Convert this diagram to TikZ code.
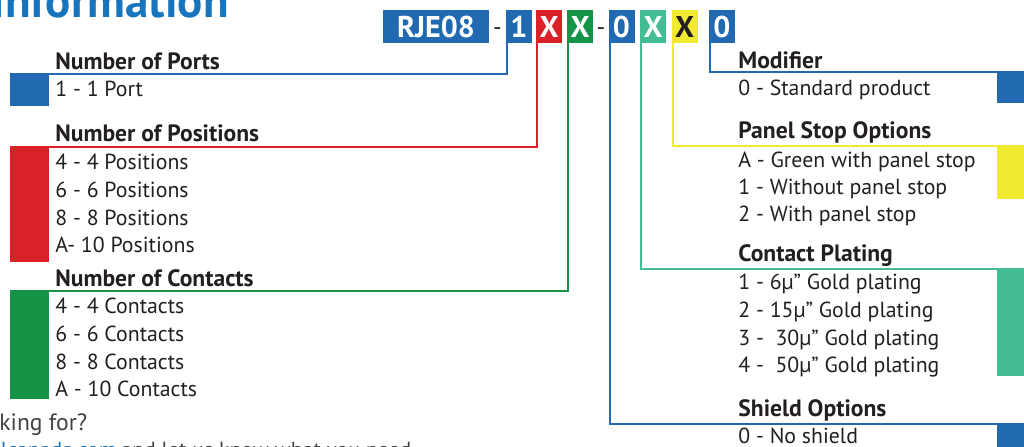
\documentclass[tikz,border=0pt]{standalone}
\usepackage{fontspec}
\setmainfont{PT Sans}
\definecolor{cblue}{RGB}{33,105,176}
\definecolor{cred}{RGB}{218,33,40}
\definecolor{cgreen}{RGB}{21,148,71}
\definecolor{cteal}{RGB}{69,189,148}
\definecolor{cyellow}{RGB}{242,234,48}
\definecolor{ctext}{RGB}{35,31,32}
\definecolor{ctitle}{RGB}{22,117,188}
\tikzset{
  codebox/.style={fill=#1, text=white, font=\fontsize{15}{15}\selectfont\bfseries,
    minimum height=16.5pt, inner sep=0pt},
  digit/.style={codebox=#1, minimum width=13pt},
  sepdash/.style={text=ctext, font=\fontsize{12}{12}\selectfont, inner sep=0pt, anchor=base},
  bar/.style={fill=#1, minimum width=19.5pt, inner sep=0pt},
  rbar/.style={fill=#1, minimum width=13.5pt, inner sep=0pt, anchor=north east},
  conn/.style={draw=#1, line width=1pt},
  head/.style={text=ctext, font=\fontsize{11.8}{12}\selectfont\bfseries, inner sep=0pt, anchor=base west},
  item/.style={text=ctext, font=\fontsize{10.9}{12}\selectfont, inner sep=0pt, anchor=base west}
}
\begin{document}
\begin{tikzpicture}[x=0.5pt,y=-0.5pt]
\useasboundingbox (0,0) rectangle (1024,446);
\clip (0,0) rectangle (1024,446);
% title and footer, cut by the page edge
\node[text=ctitle, font=\fontsize{23.5}{23.5}\selectfont\bfseries, inner sep=0pt, anchor=base east] (title) at (229,17) {Information};
\node[item, text=ctext!85, font=\fontsize{11.8}{12}\selectfont] (ask) at (-1,430) {king for?};
\node[item, text=ctitle, anchor=base east] (mail) at (117,457) {olcanada.com};
\node[item, text=ctext!85] (ask2) at (121,457) {and let us know what you need};
% part number
\node[codebox=cblue, minimum width=53pt] (rje) at (436,26.5) {RJE08};
\node[sepdash] (dashA) at (497.5,35) {-};
\node[digit=cblue] (ports) at (519,26.5) {1};
\node[digit=cred] (posn) at (549,26.5) {X};
\node[digit=cgreen] (cont) at (580,26.5) {X};
\node[sepdash] (dashB) at (601,35) {-};
\node[digit=cblue] (shield) at (621.5,26.5) {0};
\node[digit=cteal] (plate) at (653,26.5) {X};
\node[digit=cyellow, text=ctext] (panel) at (684.5,26.5) {X};
\node[digit=cblue] (modif) at (722,26.5) {0};
% colour bars
\node[bar=cblue, minimum height=16pt, anchor=north west] (portsbar) at (10,74) {};
\node[bar=cred, minimum height=57.5pt, anchor=north west] (posnbar) at (10,147) {};
\node[bar=cgreen, minimum height=54pt, anchor=north west] (contbar) at (10,291) {};
\node[rbar=cblue, minimum height=15.5pt] (modbar) at (1024,72) {};
\node[rbar=cyellow, minimum height=26.5pt] (panelbar) at (1024,146) {};
\node[rbar=cteal, minimum height=53.5pt] (platebar) at (1024,269) {};
\node[rbar=cblue, minimum height=14pt] (shieldbar) at (1024,424) {};
% connectors
\draw[conn=cblue] ([xshift=0.8pt]ports.south west) |- (portsbar.north west);
\draw[conn=cred] ([xshift=0.8pt]posn.south west) |- (posnbar.north west);
\draw[conn=cgreen] ([xshift=0.8pt]cont.south west) |- (contbar.north west);
\draw[conn=cblue] ([xshift=0.8pt]modif.south west) |- (modbar.north east);
\draw[conn=cyellow] ([xshift=0.8pt]panel.south west) |- (panelbar.north east);
\draw[conn=cteal] ([xshift=0.8pt]plate.south west) |- (platebar.north east);
\draw[conn=cblue] ([xshift=0.8pt]shield.south west) |- (shieldbar.north east);
% left column
\node[head] (portshead) at (55,69) {Number of Ports};
\node[item] (p1) at (55,96) {1 - 1 Port};
\node[head] (posnhead) at (55,141) {Number of Positions};
\node[item] (n4) at (55,169) {4 - 4 Positions};
\node[item] (n6) at (55,197) {6 - 6 Positions};
\node[item] (n8) at (55,225) {8 - 8 Positions};
\node[item] (n10) at (55,252.5) {A- 10 Positions};
\node[head] (conthead) at (55,286) {Number of Contacts};
\node[item] (c4) at (55,313) {4 - 4 Contacts};
\node[item] (c6) at (55,341) {6 - 6 Contacts};
\node[item] (c8) at (55,369) {8 - 8 Contacts};
\node[item] (c10) at (55,396.5) {A - 10 Contacts};
% right column
\node[head] (modhead) at (738,68) {Modifier};
\node[item] (m0) at (738,95) {0 - Standard product};
\node[head] (panelhead) at (738,138) {Panel Stop Options};
\node[item] (sA) at (738,167) {A - Green with panel stop};
\node[item] (s1) at (738,194) {1 - Without panel stop};
\node[item] (s2) at (738,221) {2 - With panel stop};
\node[head] (platehead) at (738,261) {Contact Plating};
\node[item] (g1) at (738,289) {1 - 6µ” Gold plating};
\node[item] (g2) at (738,317) {2 - 15µ” Gold plating};
\node[item] (g3) at (738,345) {3 -\ \ 30µ” Gold plating};
\node[item] (g4) at (738,372.5) {4 -\ \ 50µ” Gold plating};
\node[head] (shieldhead) at (738,416) {Shield Options};
\node[item] (h0) at (738,443) {0 - No shield};
\end{tikzpicture}
\end{document}
